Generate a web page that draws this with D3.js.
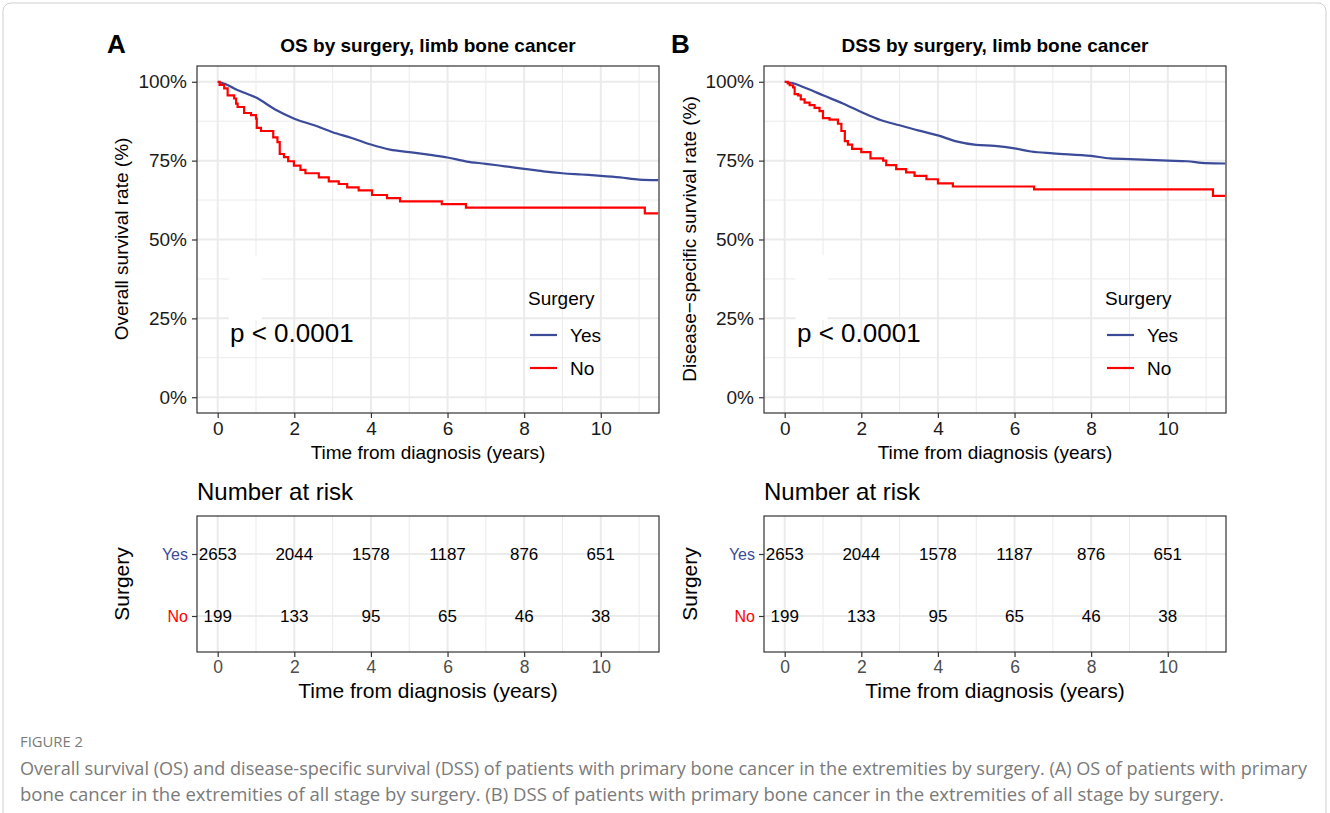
<!DOCTYPE html>
<html>
<head>
<meta charset="utf-8">
<script src="https://cdn.jsdelivr.net/npm/d3@7"></script>
<style>
  body { margin: 0; background: #fff; }
  svg text { font-family: "Liberation Sans", Arial, sans-serif; }
</style>
</head>
<body>
<svg id="fig" width="1330" height="813"></svg>
<script>
// survival curves: [years, survival]
var osYes = [[0,1],[0.2,0.993],[0.43,0.979],[0.7,0.965],[1,0.95],[1.5,0.912],[2,0.883],[2.5,0.863],[3,0.84],[3.5,0.822],[4,0.801],[4.5,0.785],[5,0.777],[5.55,0.768],[6,0.76],[6.5,0.747],[7,0.74],[7.5,0.732],[8,0.724],[8.5,0.716],[9,0.71],[9.5,0.706],[10,0.702],[10.5,0.697],[11,0.69],[11.5,0.688]]
var osNo = [[0,1],[0.05,0.99],[0.17,0.979],[0.26,0.957],[0.43,0.947],[0.48,0.931],[0.52,0.92],[0.69,0.901],[0.87,0.894],[1.0,0.883],[1.02,0.854],[1.13,0.844],[1.45,0.824],[1.56,0.809],[1.62,0.771],[1.73,0.761],[1.84,0.748],[1.99,0.734],[2.16,0.721],[2.29,0.71],[2.64,0.697],[2.9,0.684],[3.16,0.676],[3.38,0.665],[3.68,0.656],[4.03,0.641],[4.42,0.631],[4.76,0.621],[5.85,0.612],[6.48,0.601],[11.15,0.583],[11.5,0.583]]
var dssYes = [[0,1],[0.2,0.996],[0.43,0.986],[0.7,0.973],[1,0.957],[1.52,0.931],[2,0.904],[2.52,0.878],[3,0.862],[3.48,0.846],[4,0.83],[4.48,0.811],[5,0.8],[5.48,0.797],[6,0.789],[6.43,0.779],[7,0.773],[8,0.765],[8.5,0.757],[9,0.755],[10,0.75],[10.5,0.748],[11,0.742],[11.5,0.741]]
var dssNo = [[0,1],[0.08,0.995],[0.13,0.989],[0.22,0.982],[0.26,0.961],[0.35,0.957],[0.42,0.944],[0.52,0.934],[0.65,0.926],[0.78,0.917],[0.91,0.907],[1.0,0.885],[1.17,0.88],[1.39,0.867],[1.48,0.844],[1.57,0.812],[1.65,0.801],[1.76,0.787],[2.0,0.777],[2.24,0.757],[2.57,0.75],[2.65,0.736],[2.91,0.723],[3.17,0.713],[3.39,0.702],[3.7,0.691],[4.0,0.678],[4.39,0.668],[6.51,0.659],[11.18,0.638],[11.5,0.638]]

var groups = ["Yes", "No"]
var groupColors = ["#3B4B99", "#FF0000"]
var xTicks = [0, 2, 4, 6, 8, 10]
var yTicks = [0, 0.25, 0.5, 0.75, 1]
var riskTimes = [0, 2, 4, 6, 8, 10]
var riskYes = [2653, 2044, 1578, 1187, 876, 651]
var riskNo = [199, 133, 95, 65, 46, 38]

var svg = d3.select("#fig")
var grid = "#EBEBEB"

svg.append("rect")
    .attr("x", 3).attr("y", 3).attr("width", 1323).attr("height", 830)
    .attr("rx", 8).attr("fill", "none").attr("stroke", "#cfcfcf")

function drawPanel(o) {
    var left = o.left, w = 462
    var top = 66, h = 347
    var x = d3.scaleLinear().domain([-0.54, 11.52]).range([left, left + w])
    var y = d3.scaleLinear().domain([-0.05, 1.05]).range([top + h, top])

    svg.append("text").attr("x", o.letterX).attr("y", 53)
        .attr("font-size", 26).attr("font-weight", "bold").text(o.letter)
    svg.append("text").attr("x", left + w / 2).attr("y", 52)
        .attr("text-anchor", "middle").attr("font-size", 19).attr("font-weight", "bold")
        .text(o.title)

    var g = svg.append("g")
    // grid
    d3.range(0, 12).forEach(function (t) {
        g.append("line").attr("x1", x(t)).attr("x2", x(t)).attr("y1", top).attr("y2", top + h)
            .attr("stroke", grid).attr("stroke-width", t % 2 ? 1 : 2)
    })
    d3.range(0, 1.01, 0.125).forEach(function (v, i) {
        g.append("line").attr("x1", left).attr("x2", left + w).attr("y1", y(v)).attr("y2", y(v))
            .attr("stroke", grid).attr("stroke-width", i % 2 ? 1 : 2)
    })
    // white box left behind by an empty label
    g.append("rect").attr("x", x(o.patch[0])).attr("width", x(o.patch[1]) - x(o.patch[0]))
        .attr("y", y(0.45)).attr("height", y(0.245) - y(0.45)).attr("fill", "#fff")

    var clipId = "clip" + o.letter
    svg.append("clipPath").attr("id", clipId).append("rect")
        .attr("x", left).attr("y", top).attr("width", w).attr("height", h)

    var line = d3.line().x(d => x(d[0])).y(d => y(d[1])).curve(d3.curveMonotoneX)
    var step = d3.line().x(d => x(d[0])).y(d => y(d[1])).curve(d3.curveStepAfter)
    g.append("path").datum(o.yes).attr("d", line).attr("fill", "none")
        .attr("stroke", groupColors[0]).attr("stroke-width", 2.2).attr("clip-path", "url(#" + clipId + ")")
    g.append("path").datum(o.no).attr("d", step).attr("fill", "none")
        .attr("stroke", groupColors[1]).attr("stroke-width", 2.2).attr("clip-path", "url(#" + clipId + ")")

    g.append("rect").attr("x", left).attr("y", top).attr("width", w).attr("height", h)
        .attr("fill", "none").attr("stroke", "#333").attr("stroke-width", 1.2)

    var xAxis = svg.append("g").attr("transform", "translate(0," + (top + h) + ")")
        .call(d3.axisBottom(x).tickValues(xTicks).tickSize(5).tickPadding(4))
    var yAxis = svg.append("g").attr("transform", "translate(" + left + ",0)")
        .call(d3.axisLeft(y).tickValues(yTicks).tickFormat(d3.format(".0%")).tickSize(5).tickPadding(5))
    ;[xAxis, yAxis].forEach(function (a) {
        a.select(".domain").remove()
        a.selectAll(".tick line").attr("stroke", "#333").attr("stroke-width", 1.2)
        a.selectAll("text").attr("font-size", 19).attr("fill", "#1a1a1a")
            .attr("font-family", "Liberation Sans, Arial, sans-serif")
    })

    svg.append("text").attr("x", left + w / 2).attr("y", 459).attr("text-anchor", "middle")
        .attr("font-size", 19).text("Time from diagnosis (years)")
    svg.append("text").attr("transform", "translate(" + o.ylabX + ",239) rotate(-90)")
        .attr("dy", "0.35em").attr("text-anchor", "middle").attr("font-size", 19).text(o.ylab)

    // legend
    var lx = o.legendX
    svg.append("text").attr("x", lx).attr("y", 305).attr("font-size", 19).text("Surgery")
    groups.forEach(function (gname, i) {
        var ly = 335 + i * 33
        svg.append("line").attr("x1", lx + 2).attr("x2", lx + 29).attr("y1", ly).attr("y2", ly)
            .attr("stroke", groupColors[i]).attr("stroke-width", 2.2)
        svg.append("text").attr("x", lx + 42).attr("y", ly + 7).attr("font-size", 19).text(gname)
    })

    svg.append("text").attr("x", left + 33).attr("y", 342).attr("font-size", 26).text("p < 0.0001")

    // risk table
    var rTop = 516, rH = 136
    var ry = d3.scalePoint().domain(groups).range([rTop + 38, rTop + rH - 36])
    svg.append("text").attr("x", left).attr("y", 500).attr("font-size", 24).text("Number at risk")
    var rg = svg.append("g")
    d3.range(0, 12).forEach(function (t) {
        rg.append("line").attr("x1", x(t)).attr("x2", x(t)).attr("y1", rTop).attr("y2", rTop + rH)
            .attr("stroke", grid).attr("stroke-width", t % 2 ? 1 : 2)
    })
    groups.forEach(function (gname) {
        rg.append("line").attr("x1", left).attr("x2", left + w).attr("y1", ry(gname)).attr("y2", ry(gname))
            .attr("stroke", grid).attr("stroke-width", 2)
    })
    ;[riskYes, riskNo].forEach(function (vals, i) {
        rg.selectAll(null).data(vals).enter().append("text")
            .attr("x", (d, j) => x(riskTimes[j])).attr("y", ry(groups[i])).attr("dy", "0.35em")
            .attr("text-anchor", "middle").attr("font-size", 17).text(d => d)
    })
    rg.append("rect").attr("x", left).attr("y", rTop).attr("width", w).attr("height", rH)
        .attr("fill", "none").attr("stroke", "#333").attr("stroke-width", 1.2)

    var rx = svg.append("g").attr("transform", "translate(0," + (rTop + rH) + ")")
        .call(d3.axisBottom(x).tickValues(xTicks).tickSize(5).tickPadding(4))
    var ryAxis = svg.append("g").attr("transform", "translate(" + left + ",0)")
        .call(d3.axisLeft(ry).tickSize(5).tickPadding(4))
    ;[rx, ryAxis].forEach(function (a) {
        a.select(".domain").remove()
        a.selectAll(".tick line").attr("stroke", "#333").attr("stroke-width", 1.2)
        a.selectAll("text").attr("font-family", "Liberation Sans, Arial, sans-serif")
    })
    rx.selectAll("text").attr("font-size", 17.5).attr("fill", "#4D4D4D")
    ryAxis.selectAll("text").attr("font-size", 16).attr("fill", (d, i) => groupColors[groups.indexOf(d)])

    svg.append("text").attr("x", left + w / 2).attr("y", 698).attr("text-anchor", "middle")
        .attr("font-size", 21).text("Time from diagnosis (years)")
    svg.append("text").attr("transform", "translate(" + (o.ylabX + 1) + ",584) rotate(-90)")
        .attr("dy", "0.35em").attr("text-anchor", "middle").attr("font-size", 21).text("Surgery")
}

drawPanel({letter: "A", letterX: 107, left: 197, legendX: 528, title: "OS by surgery, limb bone cancer",
    ylab: "Overall survival rate (%)", ylabX: 121, yes: osYes, no: osNo, patch: [0.29, 1.15]})
drawPanel({letter: "B", letterX: 671, left: 764, legendX: 1105, title: "DSS by surgery, limb bone cancer",
    ylab: "Disease\u2212specific survival rate (%)", ylabX: 689, yes: dssYes, no: dssNo, patch: [0.28, 1.12]})

// caption
var cap = svg.append("g").attr("fill", "#7a7a7a")
cap.append("text").attr("x", 20).attr("y", 747).attr("font-size", 14)
    .attr("textLength", 63).attr("lengthAdjust", "spacingAndGlyphs")
    .style("font-family", "Open Sans, sans-serif").text("FIGURE 2")
cap.append("text").attr("x", 20).attr("y", 775).attr("font-size", 17.5)
    .attr("textLength", 1287).attr("lengthAdjust", "spacingAndGlyphs")
    .style("font-family", "Open Sans, sans-serif")
    .text("Overall survival (OS) and disease-specific survival (DSS) of patients with primary bone cancer in the extremities by surgery. (A) OS of patients with primary")
cap.append("text").attr("x", 20).attr("y", 801).attr("font-size", 17.5)
    .attr("textLength", 1204).attr("lengthAdjust", "spacingAndGlyphs")
    .style("font-family", "Open Sans, sans-serif")
    .text("bone cancer in the extremities of all stage by surgery. (B) DSS of patients with primary bone cancer in the extremities of all stage by surgery.")
</script>
</body>
</html>
